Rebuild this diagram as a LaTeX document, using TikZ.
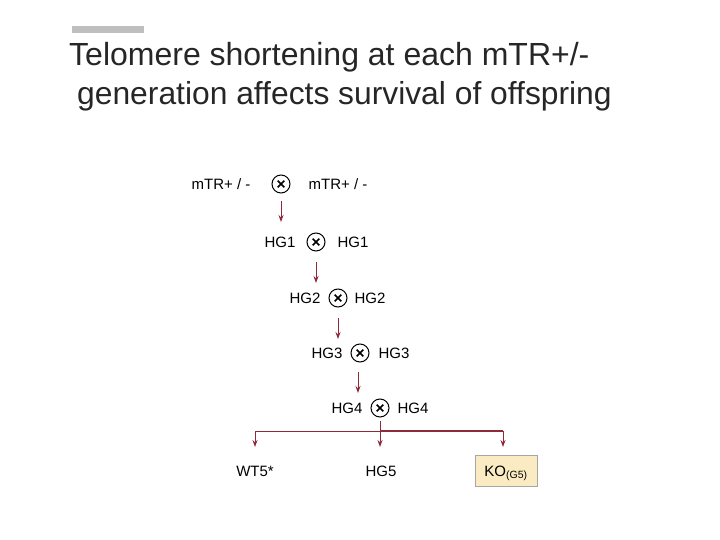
\documentclass[tikz,border=0pt]{standalone}
\usepackage{fontspec}
\setmainfont{Liberation Sans}
\usetikzlibrary{arrows.meta}
\definecolor{arr}{HTML}{8E2A3A}
\definecolor{kofill}{HTML}{FBEBC3}
\begin{document}
\begin{tikzpicture}[x=1pt,y=-1pt,
  lbl/.style={font=\fontsize{15}{17}\selectfont, inner sep=0pt, anchor=center},
  cross/.style={circle, draw, line width=1pt, minimum size=18pt, inner sep=0pt,
    path picture={\draw[line width=1.6pt] ([shift={(-3.3pt,-3.3pt)}]path picture bounding box.center) -- ([shift={(3.3pt,3.3pt)}]path picture bounding box.center);
                  \draw[line width=1.6pt] ([shift={(-3.3pt,3.3pt)}]path picture bounding box.center) -- ([shift={(3.3pt,-3.3pt)}]path picture bounding box.center);}},
  arrline/.style={draw=arr, line width=0.9pt, -{Stealth[length=7pt,width=5pt]}},
  brline/.style={draw=arr, line width=0.9pt}]
\useasboundingbox (0,0) rectangle (720,540);
\fill[gray!50] (72,26) rectangle (144,33);
\node[anchor=west, inner sep=0pt, text=black!85, font=\fontsize{32}{36}\selectfont] (t1) at (69,57) {Telomere shortening at each mTR+/-};
\node[anchor=west, inner sep=0pt, text=black!85, font=\fontsize{31.8}{36}\selectfont] (t2) at (77,96) {generation affects survival of offspring};
% row 1
\node[lbl] (a1) at (221,184) {mTR+ / -};
\node[cross] (x1) at (281,184) {};
\node[lbl] (b1) at (338,184) {mTR+ / -};
% row 2
\node[lbl] (a2) at (280,242) {HG1};
\node[cross] (x2) at (316,242) {};
\node[lbl] (b2) at (353,242) {HG1};
% row 3
\node[lbl] (a3) at (305,298) {HG2};
\node[cross] (x3) at (338,298) {};
\node[lbl] (b3) at (370,298) {HG2};
% row 4
\node[lbl] (a4) at (327,353) {HG3};
\node[cross] (x4) at (360,353) {};
\node[lbl] (b4) at (394,353) {HG3};
% row 5
\node[lbl] (a5) at (347,408) {HG4};
\node[cross] (x5) at (380,408) {};
\node[lbl] (b5) at (413,408) {HG4};
% row 6
\node[lbl] (w) at (255,471) {WT5*};
\node[lbl] (h) at (381,471) {HG5};
\node[draw=gray!70, fill=kofill, minimum width=62pt, minimum height=31pt, anchor=center] (ko) at (506,470.5) {};
\node[lbl, anchor=base] (kot) at (506,476) {KO\textsubscript{(G5)}};
% arrows
\coordinate (s1) at (281,201); \coordinate (e1) at (281,222);
\coordinate (s2) at (316,262); \coordinate (e2) at (316,283);
\coordinate (s3) at (338,318); \coordinate (e3) at (338,339);
\coordinate (s4) at (358,372); \coordinate (e4) at (358,393);
\draw[arrline] (s1) -- (e1);
\draw[arrline] (s2) -- (e2);
\draw[arrline] (s3) -- (e3);
\draw[arrline] (s4) -- (e4);
% branch
\coordinate (j0) at (380,421);
\coordinate (j) at (380,431);
\coordinate (jl) at (255,431);
\coordinate (jr) at (503,431);
\coordinate (ew) at (255,447);
\coordinate (eh) at (380,447);
\coordinate (ek) at (503,447);
\draw[brline] (j0) -- (j);
\draw[brline] (j) -- (jl);
\draw[brline, line width=1.4pt] (j) -- (jr);
\draw[arrline] (jl) -- (ew);
\draw[arrline] (j) -- (eh);
\draw[arrline] (jr) -- (ek);
\end{tikzpicture}
\end{document}
